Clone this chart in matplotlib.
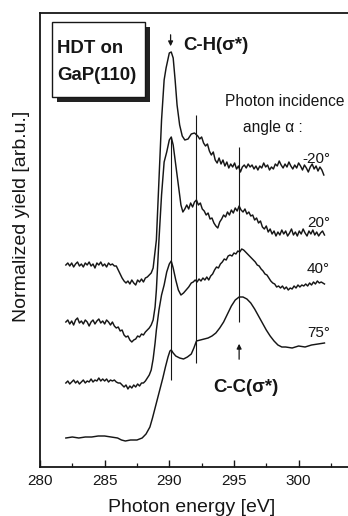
import matplotlib
matplotlib.use('Agg')
import matplotlib.pyplot as plt
from matplotlib.patches import Rectangle
from matplotlib.ticker import MultipleLocator

plt.rcParams['font.family'] = ['Liberation Sans', 'DejaVu Sans']

# ---------------- data: (photon energy [eV], yield [arb.u.]) ----------------
angle_labels = ['-20°', '20°', '40°', '75°']

spectrum_m20 = [
    (282.0, 202), (282.15, 204), (282.3, 201), (282.45, 204), (282.6, 200), (282.75, 203), (282.9, 205),
    (283.05, 201), (283.2, 203), (283.35, 200), (283.5, 204), (283.65, 202), (283.8, 205), (283.95, 201),
    (284.1, 203), (284.25, 199), (284.4, 204), (284.55, 202), (284.7, 205), (284.85, 201), (285.0, 203),
    (285.15, 200), (285.3, 204), (285.45, 202), (285.6, 203), (285.75, 201), (285.9, 201), (286.05, 197),
    (286.2, 193), (286.35, 189), (286.5, 186), (286.65, 184), (286.8, 186), (286.95, 183), (287.1, 187),
    (287.25, 184), (287.4, 182), (287.55, 187), (287.7, 185), (287.85, 188), (288.0, 185), (288.15, 189),
    (288.3, 190), (288.45, 192), (288.6, 194), (288.75, 199), (288.85, 210), (289.0, 227), (289.2, 287),
    (289.4, 347), (289.6, 387), (289.75, 399), (289.85, 405), (290.0, 414), (290.15, 415), (290.3, 409),
    (290.45, 387), (290.6, 362), (290.8, 342), (291.0, 331), (291.2, 327), (291.45, 328), (291.7, 333),
    (291.95, 334), (292.2, 331), (292.35, 328), (292.5, 330), (292.65, 324), (292.8, 321), (292.95, 323),
    (293.1, 316), (293.25, 312), (293.4, 315), (293.55, 307), (293.7, 304), (293.85, 309), (294.0, 303),
    (294.15, 307), (294.3, 301), (294.45, 305), (294.6, 299), (294.75, 303), (294.9, 300), (295.05, 304),
    (295.2, 298), (295.35, 301), (295.5, 295), (295.65, 300), (295.8, 302), (295.95, 299), (296.1, 303),
    (296.25, 300), (296.4, 302), (296.55, 298), (296.7, 301), (296.85, 297), (297.0, 301), (297.15, 299),
    (297.3, 304), (297.45, 300), (297.6, 302), (297.75, 297), (297.9, 300), (298.05, 298), (298.2, 303),
    (298.35, 301), (298.5, 306), (298.65, 302), (298.8, 299), (298.95, 303), (299.1, 300), (299.25, 305),
    (299.4, 301), (299.55, 298), (299.7, 302), (299.85, 299), (300.0, 304), (300.15, 301), (300.3, 297),
    (300.45, 302), (300.6, 299), (300.75, 295), (300.9, 300), (301.05, 303), (301.2, 298), (301.35, 301),
    (301.5, 296), (301.65, 300), (301.8, 297), (301.95, 292)]

spectrum_20 = [
    (282.0, 145), (282.15, 147), (282.3, 143), (282.45, 146), (282.6, 142), (282.75, 147), (282.9, 149),
    (283.05, 144), (283.2, 146), (283.35, 143), (283.5, 147), (283.65, 145), (283.8, 141), (283.95, 145),
    (284.1, 147), (284.25, 143), (284.4, 146), (284.55, 148), (284.7, 144), (284.85, 146), (285.0, 143),
    (285.15, 147), (285.3, 145), (285.45, 142), (285.6, 145), (285.75, 141), (285.9, 139), (286.05, 140),
    (286.2, 136), (286.35, 137), (286.5, 132), (286.65, 130), (286.8, 131), (286.95, 127), (287.1, 125),
    (287.25, 127), (287.4, 128), (287.55, 131), (287.7, 130), (287.85, 133), (288.0, 132), (288.15, 135),
    (288.3, 137), (288.45, 139), (288.6, 142), (288.75, 147), (288.9, 160), (289.0, 177), (289.2, 227),
    (289.4, 272), (289.6, 305), (289.8, 315), (290.0, 327), (290.15, 330), (290.3, 322), (290.5, 302),
    (290.7, 282), (290.9, 262), (291.05, 255), (291.2, 258), (291.35, 262), (291.5, 258), (291.65, 264),
    (291.8, 260), (291.95, 265), (292.1, 267), (292.25, 262), (292.4, 264), (292.55, 258), (292.7, 256),
    (292.85, 252), (293.0, 254), (293.15, 248), (293.3, 249), (293.45, 244), (293.6, 241), (293.75, 239),
    (293.9, 245), (294.05, 248), (294.2, 252), (294.35, 250), (294.5, 255), (294.65, 252), (294.8, 257),
    (294.95, 254), (295.1, 259), (295.25, 256), (295.4, 261), (295.55, 257), (295.7, 255), (295.85, 258),
    (296.0, 253), (296.15, 255), (296.3, 251), (296.45, 252), (296.6, 247), (296.75, 249), (296.9, 244),
    (297.05, 246), (297.2, 240), (297.35, 238), (297.5, 241), (297.65, 235), (297.8, 238), (297.95, 233),
    (298.1, 236), (298.25, 231), (298.4, 235), (298.55, 232), (298.7, 237), (298.85, 233), (299.0, 236),
    (299.15, 231), (299.3, 234), (299.45, 238), (299.6, 232), (299.75, 235), (299.9, 231), (300.05, 236),
    (300.2, 233), (300.35, 238), (300.5, 234), (300.65, 231), (300.8, 236), (300.95, 233), (301.1, 237),
    (301.25, 232), (301.4, 235), (301.55, 231), (301.7, 234), (301.85, 236), (302.0, 232)]

spectrum_40 = [
    (282.0, 84), (282.15, 86), (282.3, 83), (282.45, 85), (282.6, 87), (282.75, 84), (282.9, 86),
    (283.05, 83), (283.2, 85), (283.35, 87), (283.5, 84), (283.65, 86), (283.8, 85), (283.95, 88),
    (284.1, 85), (284.25, 87), (284.4, 86), (284.55, 89), (284.7, 86), (284.85, 88), (285.0, 86),
    (285.15, 88), (285.3, 85), (285.45, 87), (285.6, 86), (285.75, 87), (285.9, 85), (286.05, 84),
    (286.2, 84), (286.35, 82), (286.5, 80), (286.65, 82), (286.8, 78), (286.95, 81), (287.1, 79),
    (287.25, 82), (287.4, 80), (287.55, 83), (287.7, 81), (287.85, 84), (288.0, 84), (288.15, 86),
    (288.3, 89), (288.45, 92), (288.6, 97), (288.75, 108), (288.9, 124), (289.0, 137), (289.2, 157),
    (289.4, 172), (289.6, 182), (289.8, 195), (290.0, 203), (290.15, 206), (290.3, 199), (290.5, 187),
    (290.7, 177), (290.9, 172), (291.1, 174), (291.3, 177), (291.5, 180), (291.7, 184), (291.85, 185),
    (292.0, 187), (292.15, 185), (292.3, 188), (292.45, 186), (292.6, 189), (292.75, 187), (292.9, 190),
    (293.05, 187), (293.2, 191), (293.35, 193), (293.5, 197), (293.65, 200), (293.8, 199), (293.95, 203),
    (294.1, 205), (294.25, 208), (294.4, 207), (294.55, 211), (294.7, 212), (294.85, 211), (295.0, 214),
    (295.15, 213), (295.3, 216), (295.45, 215), (295.6, 218), (295.75, 217), (295.9, 215), (296.05, 213),
    (296.2, 211), (296.35, 209), (296.5, 207), (296.65, 205), (296.8, 202), (296.95, 201), (297.1, 198),
    (297.25, 196), (297.4, 193), (297.55, 192), (297.7, 189), (297.85, 186), (298.0, 184), (298.15, 183),
    (298.3, 180), (298.45, 181), (298.6, 179), (298.75, 181), (298.9, 178), (299.05, 180), (299.2, 177),
    (299.35, 179), (299.5, 178), (299.65, 181), (299.8, 179), (299.95, 182), (300.1, 180), (300.25, 182),
    (300.4, 181), (300.55, 183), (300.7, 181), (300.85, 184), (301.0, 182), (301.15, 185), (301.3, 183),
    (301.45, 186), (301.6, 184), (301.75, 185), (302.0, 183)]

spectrum_75 = [
    (282.0, 29), (282.5, 30), (283.0, 29), (283.5, 30), (284.0, 30), (284.5, 31), (285.0, 31),
    (285.5, 30), (286.0, 29), (286.3, 27), (286.6, 26), (287.0, 27), (287.5, 27), (287.9, 29),
    (288.2, 33), (288.5, 40), (288.7, 49), (288.9, 59), (289.1, 69), (289.3, 79), (289.5, 89),
    (289.7, 100), (289.9, 110), (290.05, 116), (290.15, 117), (290.3, 114), (290.5, 111), (290.8, 109),
    (291.1, 108), (291.4, 110), (291.7, 113), (291.9, 119), (292.1, 126), (292.4, 127), (292.7, 128),
    (293.0, 129), (293.3, 131), (293.6, 134), (293.9, 139), (294.2, 145), (294.5, 153), (294.8, 161),
    (295.1, 167), (295.4, 170), (295.7, 170), (296.0, 168), (296.3, 164), (296.6, 158), (296.9, 151),
    (297.2, 144), (297.5, 137), (297.8, 131), (298.1, 126), (298.4, 122), (298.7, 120), (299.0, 120),
    (299.5, 119), (300.0, 121), (300.5, 120), (301.0, 122), (301.5, 123), (302.0, 124)]

# resonance marker lines: energy, lower and upper end (arb. units)
marker_energy = [290.1, 292.1, 295.4]
marker_low = [87, 104, 145]
marker_high = [330, 352, 320]

# ---------------- figure ----------------
fig = plt.figure(figsize=(3.48, 5.16), dpi=100)
ax = fig.add_axes([40 / 348, 49 / 516, 308 / 348, 454 / 516])
ink = '#161616'

for spec in [spectrum_m20, spectrum_20, spectrum_40, spectrum_75]:
    e = [p[0] for p in spec]
    y = [p[1] for p in spec]
    ax.plot(e, y, color=ink, lw=1.05, solid_joinstyle='round')

ax.vlines(marker_energy, marker_low, marker_high, color=ink, lw=0.8)

ax.set_xlim(280, 303.82)
ax.set_ylim(0, 454)
ax.set_yticks([])
ax.xaxis.set_major_locator(MultipleLocator(5))
ax.xaxis.set_minor_locator(MultipleLocator(2.5))
ax.tick_params(axis='x', which='major', direction='in', length=5, width=1.0,
               labelsize=11, pad=5, colors=ink)
ax.tick_params(axis='x', which='minor', direction='in', length=3, width=0.9, colors=ink)
for s in ['top', 'left', 'bottom']:
    ax.spines[s].set_linewidth(1.3)
    ax.spines[s].set_color(ink)
ax.spines['right'].set_visible(False)

# sample box with shadow
ax.add_patch(Rectangle((281.31, 365), 7.19, 75, facecolor='#222222', edgecolor='none', zorder=4))
ax.add_patch(Rectangle((280.93, 370), 7.19, 75, facecolor='white', edgecolor=ink, lw=1.0, zorder=5))
ax.text(281.31, 414, 'HDT on', fontsize=13.4, fontweight='bold', ha='left', va='baseline', zorder=6, color=ink)
ax.text(281.31, 387, 'GaP(110)', fontsize=13.4, fontweight='bold', ha='left', va='baseline', zorder=6, color=ink)

# resonance annotations
ax.annotate('', xy=(290.1, 418), xytext=(290.1, 435),
            arrowprops=dict(arrowstyle='-|>', color=ink, lw=0.9, mutation_scale=7))
ax.text(291.06, 417, 'C-H(σ*)', fontsize=13.4, fontweight='bold', ha='left', va='baseline', color=ink)
ax.annotate('', xy=(295.4, 126), xytext=(295.4, 105),
            arrowprops=dict(arrowstyle='-|>', color=ink, lw=0.9, mutation_scale=7))
ax.text(293.38, 75, 'C-C(σ*)', fontsize=13.4, fontweight='bold', ha='left', va='baseline', color=ink)

ax.text(294.31, 361, 'Photon incidence', fontsize=11.2, ha='left', va='baseline', color=ink)
ax.text(295.7, 335, 'angle α :', fontsize=11.2, ha='left', va='baseline', color=ink)

label_y = [304, 240, 194, 130]
for lab, yy in zip(angle_labels, label_y):
    ax.text(302.43, yy, lab, fontsize=11, ha='right', va='baseline', color=ink)

fig.text(22 / 348, 1 - 216 / 516, 'Normalized yield [arb.u.]', rotation=90,
         ha='center', va='center', fontsize=14, color=ink)
fig.text(192 / 348, 1 - 512 / 516, 'Photon energy [eV]', ha='center', va='baseline',
         fontsize=14, color=ink)

fig.savefig('out.png', dpi=100)
